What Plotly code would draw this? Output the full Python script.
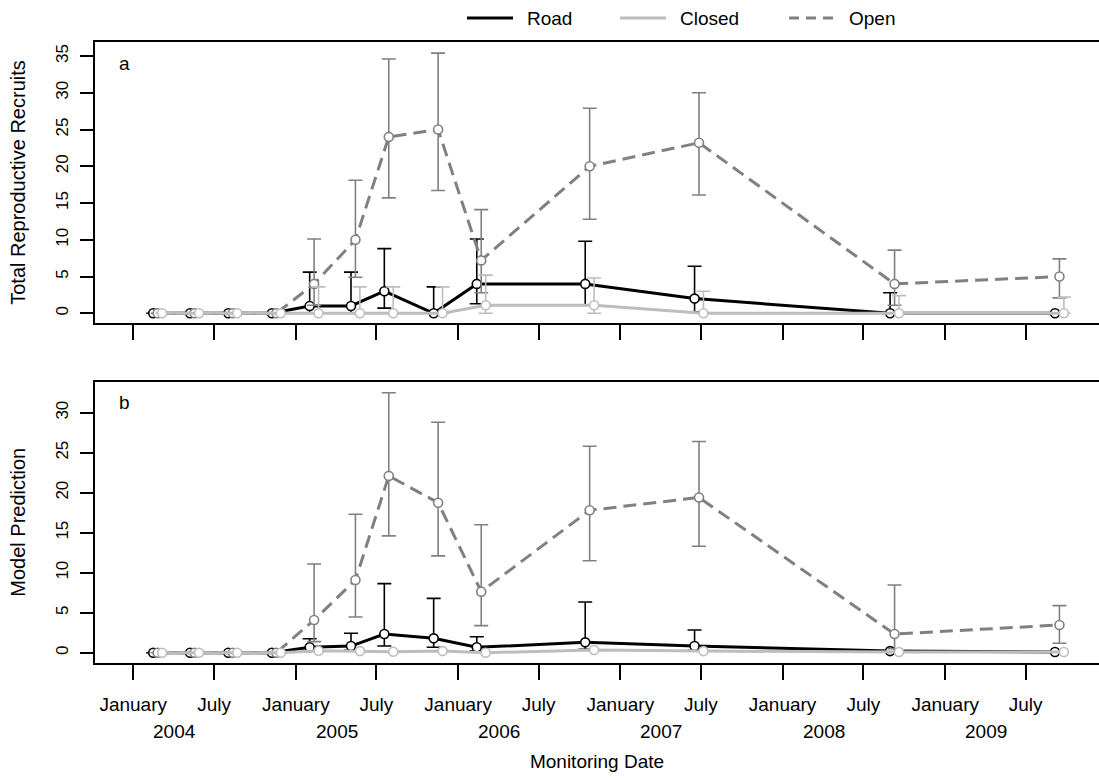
import numpy as np
import pandas as pd
import plotly.graph_objects as go

# ---- survey data -------------------------------------------------------
survey_dates = ["2004-02-25", "2004-05-18", "2004-08-12", "2004-11-18",
                "2005-02-11", "2005-05-15", "2005-07-29", "2005-11-17",
                "2006-02-22", "2006-10-24", "2007-06-27", "2008-09-09",
                "2009-09-15"]

series_names = ["Road", "Closed", "Open"]

# (a) observed totals with confidence limits (None = no bar drawn)
road_obs = [0, 0, 0, 0, 1.0, 1.0, 3.0, 0, 4.0, 4.0, 2.0, 0, 0]
road_obs_lo = [None, None, None, None, 0.0, 0.0, 0.7, 0.0, 1.3, 1.1, 0.2, 0.0, None]
road_obs_hi = [None, None, None, None, 5.6, 5.6, 8.8, 3.6, 10.1, 9.8, 6.4, 2.8, None]

closed_obs = [0, 0, 0, 0, 0, 0, 0, 0, 1.1, 1.1, 0, 0, 0]
closed_obs_lo = [None, None, None, None, 0, 0, 0, 0, 0, 0, 0, 0, 0]
closed_obs_hi = [None, None, None, None, 3.6, 3.6, 3.6, 3.6, 5.2, 4.8, 3.0, 2.4, 2.2]

open_obs = [0, 0, 0, 0, 4.0, 10.0, 24.0, 25.0, 7.2, 20.0, 23.2, 4.0, 5.0]
open_obs_lo = [None, None, None, None, 1.1, 4.9, 15.7, 16.7, 2.8, 12.8, 16.1, 1.1, 2.1]
open_obs_hi = [None, None, None, None, 10.1, 18.1, 34.6, 35.4, 14.1, 27.9, 30.0, 8.6, 7.4]

# (b) model predictions with confidence limits
road_mod = [0, 0, 0, 0, 0.67, 0.83, 2.33, 1.79, 0.67, 1.29, 0.83, 0.2, 0.08]
road_mod_lo = [None, None, None, None, 0.2, 0.3, 0.83, 0.67, 0.25, 0.42, 0.3, None, None]
road_mod_hi = [None, None, None, None, 1.75, 2.42, 8.63, 6.79, 2.0, 6.33, 2.83, None, None]

closed_mod = [0, 0, 0, 0, 0.25, 0.2, 0.12, 0.2, 0, 0.33, 0.2, 0.08, 0.08]

open_mod = [0, 0, 0, 0, 4.08, 9.08, 22.1, 18.75, 7.63, 17.8, 19.4, 2.33, 3.46]
open_mod_lo = [None, None, None, None, 1.38, 4.46, 14.6, 12.1, 3.38, 11.5, 13.3, 0.5, 1.17]
open_mod_hi = [None, None, None, None, 11.08, 17.3, 32.5, 28.8, 16.0, 25.8, 26.4, 8.46, 5.88]

year_labels = ["2004", "2005", "2006", "2007", "2008", "2009"]
month_labels = ["January", "July"]

# ---- styling -----------------------------------------------------------
FONT = "Liberation Sans, Arial, Helvetica, sans-serif"
TXT = 19
styles = {
    "Road":   dict(color="#000000", dash="solid", shift=-10),
    "Closed": dict(color="#BDBDBD", dash="solid", shift=10),
    "Open":   dict(color="#808080", dash="13px,7px", shift=0),
}

dates = pd.to_datetime(survey_dates)


def err_arrays(vals, lo, hi):
    up, down = [], []
    for v, l, h in zip(vals, lo, hi):
        up.append(None if h is None else h - v)
        down.append(None if l is None else v - l)
    return up, down


def add_series(fig, name, vals, lo, hi, xa, ya):
    st = styles[name]
    x = dates + pd.Timedelta(days=st["shift"])
    kw = {}
    if lo is not None:
        up, down = err_arrays(vals, lo, hi)
        kw["error_y"] = dict(type="data", symmetric=False, array=up, arrayminus=down,
                             color=st["color"], thickness=1.6, width=7)
    fig.add_trace(go.Scatter(
        x=x, y=vals, name=name, mode="lines+markers", showlegend=False,
        xaxis=xa, yaxis=ya,
        line=dict(color=st["color"], width=3, dash=st["dash"]),
        marker=dict(symbol="circle", size=9, color="white",
                    line=dict(color=st["color"], width=1.6)),
        **kw))


fig = go.Figure()
# panel a
add_series(fig, "Road", road_obs, road_obs_lo, road_obs_hi, "x", "y")
add_series(fig, "Open", open_obs, open_obs_lo, open_obs_hi, "x", "y")
add_series(fig, "Closed", closed_obs, closed_obs_lo, closed_obs_hi, "x", "y")
# panel b
add_series(fig, "Road", road_mod, road_mod_lo, road_mod_hi, "x2", "y2")
add_series(fig, "Open", open_mod, open_mod_lo, open_mod_hi, "x2", "y2")
add_series(fig, "Closed", closed_mod, None, None, "x2", "y2")

# ---- axes ----------------------------------------------------------------
tick_dates = []
tick_text = []
for yr in year_labels:
    tick_dates += [f"{yr}-01-01", f"{yr}-07-01"]
    tick_text += month_labels

x_range = ["2003-10-07", "2009-12-13"]
xcommon = dict(type="date", range=x_range, tickmode="array", tickvals=tick_dates,
               ticks="outside", ticklen=15, tickwidth=1.5, tickcolor="black",
               showline=True, linecolor="black", linewidth=1.5, mirror=True,
               showgrid=False, zeroline=False,
               tickfont=dict(family=FONT, size=TXT, color="black"))
ycommon = dict(ticks="outside", ticklen=13, tickwidth=1.5, tickcolor="black",
               showline=True, linecolor="black", linewidth=1.5, mirror=False,
               showgrid=False, zeroline=False, tickangle=-90, dtick=5, tick0=0,
               ticklabelstandoff=5,
               tickfont=dict(family=FONT, size=17, color="black"))

W, H = 1099, 778
ML, MR, MT, MB = 95, 0, 42, 115
plot_w, plot_h = W - ML - MR, H - MT - MB


def px_x(p):
    return (p - ML) / plot_w


def px_y(p):
    return (H - MB - p) / plot_h


fig.update_layout(
    width=W, height=H,
    margin=dict(l=ML, r=MR, t=MT, b=MB),
    paper_bgcolor="white", plot_bgcolor="white",
    font=dict(family=FONT, size=TXT, color="black"),
    xaxis=dict(**xcommon, anchor="y", showticklabels=False),
    xaxis2=dict(**xcommon, anchor="y2", ticktext=tick_text, showticklabels=True,
                ticklabelstandoff=8,
                title=dict(text="Monitoring Date", standoff=41,
                           font=dict(family=FONT, size=TXT))),
    yaxis=dict(**ycommon, domain=[px_y(323), 1], range=[-1.32, 36.91],
               title=dict(text="Total Reproductive Recruits", standoff=22,
                          font=dict(family=FONT, size=20))),
    yaxis2=dict(**ycommon, domain=[0, px_y(381.5)], range=[-1.29, 33.9],
                title=dict(text="Model Prediction", standoff=22,
                           font=dict(family=FONT, size=20))),
)

annotations = []
# year labels centred under each pair of month ticks
for yr in year_labels:
    annotations.append(dict(x=f"{yr}-04-03", xref="x2", y=px_y(731), yref="paper",
                            text=yr, showarrow=False, xanchor="center", yanchor="middle",
                            font=dict(family=FONT, size=TXT)))
# panel letters
annotations.append(dict(x=px_x(117), y=px_y(63), xref="paper", yref="paper", text="a",
                        showarrow=False, xanchor="left", yanchor="middle",
                        font=dict(family=FONT, size=TXT)))
annotations.append(dict(x=px_x(117), y=px_y(403), xref="paper", yref="paper", text="b",
                        showarrow=False, xanchor="left", yanchor="middle",
                        font=dict(family=FONT, size=TXT)))

# legend across the top
shapes = []
legend_x = {"Road": 467, "Closed": 620, "Open": 789}
for name in series_names:
    st = styles[name]
    x0 = legend_x[name]
    shapes.append(dict(type="line", xref="paper", yref="paper",
                       x0=px_x(x0), x1=px_x(x0 + 46), y0=px_y(18), y1=px_y(18),
                       line=dict(color=st["color"], width=3,
                                 dash="10px,7px" if name == "Open" else "solid")))
    annotations.append(dict(x=px_x(x0 + 58), y=px_y(18), xref="paper", yref="paper",
                            text=name, showarrow=False, xanchor="left", yanchor="middle",
                            font=dict(family=FONT, size=TXT)))

fig.update_layout(annotations=annotations, shapes=shapes)

fig.write_html("out.html")
